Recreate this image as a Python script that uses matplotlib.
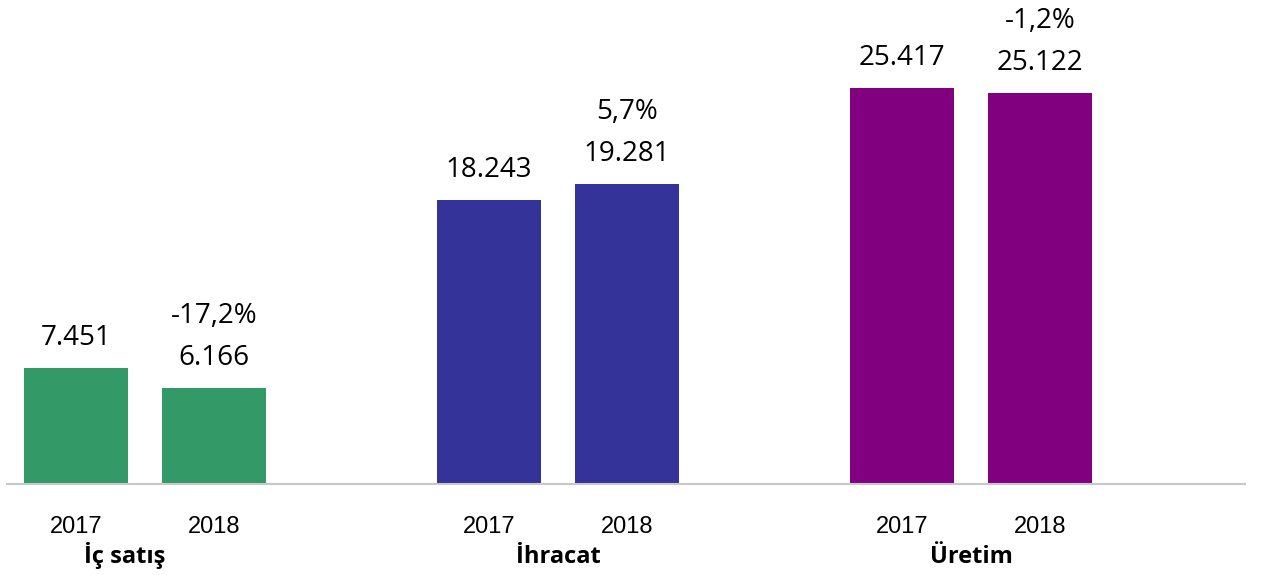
import matplotlib.pyplot as plt
import matplotlib.transforms as mtransforms

# Veriler
gruplar = ['İç satış', 'İhracat', 'Üretim']
yillar = ['2017', '2018']
degerler_2017 = [7451, 18243, 25417]
degerler_2018 = [6166, 19281, 25122]
degisim = ['-17,2%', '5,7%', '-1,2%']
renkler = ['#339966', '#333399', '#800080']
etiket_kayma = [-0.048, 0.0, 0.0]  # grup etiketlerinin yatay kayması


def fmt(v):
    return '{:,}'.format(v).replace(',', '.')


fig = plt.figure(figsize=(12.62, 5.75), dpi=100)
ax = fig.add_axes([7 / 1262, 91 / 575, 1238 / 1262, 484 / 575])

w = 0.252
off = 0.167
for i, g in enumerate(gruplar):
    x1, x2 = i - off, i + off
    ax.bar([x1, x2], [degerler_2017[i], degerler_2018[i]], width=w, color=renkler[i])

    ax.annotate(fmt(degerler_2017[i]), (x1, degerler_2017[i]), xytext=(0, 16.5),
                textcoords='offset points', ha='center', va='baseline',
                fontsize=20, family='Open Sans')
    ax.annotate(fmt(degerler_2018[i]), (x2, degerler_2018[i]), xytext=(0, 16.5),
                textcoords='offset points', ha='center', va='baseline',
                fontsize=20, family='Open Sans')
    ax.annotate(degisim[i], (x2, degerler_2018[i]), xytext=(0, 46.5),
                textcoords='offset points', ha='center', va='baseline',
                fontsize=20, family='Open Sans')

    trans = ax.get_xaxis_transform()
    for x, y in zip([x1, x2], yillar):
        ax.text(x, -0.101, y, transform=trans, ha='center', va='baseline',
                fontsize=17, family='Liberation Sans')
    ax.text(i + etiket_kayma[i], -0.163, g, transform=trans, ha='center', va='baseline',
            fontsize=17, fontweight='bold', family='Open Sans')

ax.set_xlim(-0.334, 2.663)
ax.set_ylim(0, 31060)
for s in ['top', 'right', 'left']:
    ax.spines[s].set_visible(False)
ax.spines['bottom'].set_color('#c8c8c8')
ax.spines['bottom'].set_linewidth(1.5)
ax.set_xticks([])
ax.set_yticks([])

fig.savefig('out.png', dpi=100)
